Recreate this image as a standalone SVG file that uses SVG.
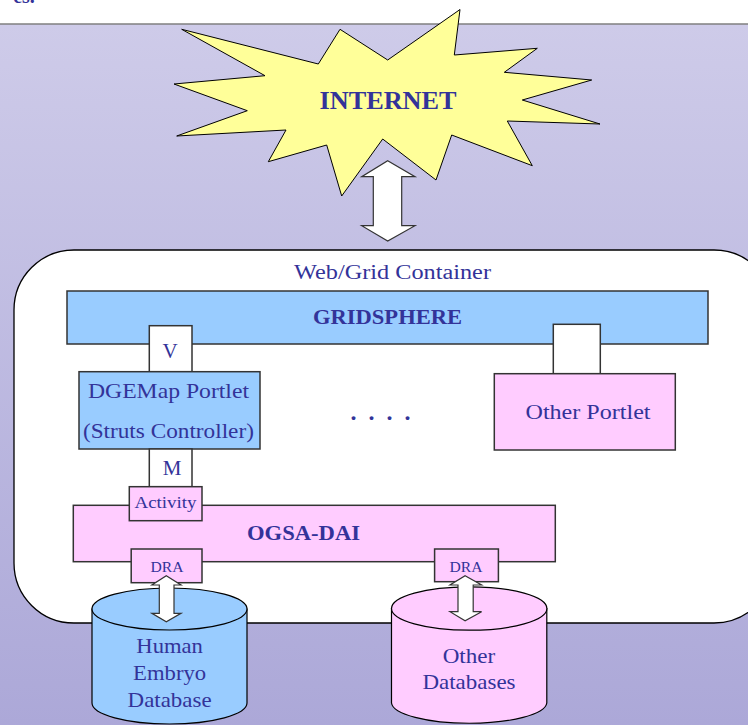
<svg xmlns="http://www.w3.org/2000/svg" width="748" height="725" viewBox="0 0 748 725">
<defs>
<linearGradient id="bg" x1="0" y1="0" x2="0" y2="1">
<stop offset="0" stop-color="#CECBE9"/>
<stop offset="1" stop-color="#ACA8D8"/>
</linearGradient>
<style>
.t{font-family:"Liberation Serif","Times New Roman",serif;fill:#333399;text-anchor:middle}
.b{font-weight:bold}
.box{stroke:#333333;stroke-width:1.5}
.blue{fill:#99CCFF}
.pink{fill:#FFCCFF}
.white{fill:#FFFFFF}
.arr{fill:#FFFFFF;stroke:#333333;stroke-width:1.2;stroke-linejoin:miter}
</style>
</defs>
<rect x="0" y="0" width="748" height="725" fill="#FFFFFF"/>
<rect x="0" y="24" width="748" height="701" fill="url(#bg)"/>
<line x1="0" y1="24" x2="748" y2="24" stroke="#7F7F7F" stroke-width="1.5"/>
<text class="t b" x="24" y="3" font-size="20">es.</text>

<g id="internet">
<polygon points="181.7,29.3 318.3,64 340,29.3 387.7,60 460,9.5 454.3,55 537.3,48.3 504.3,72.3 591.7,80 522.3,100 600,124 507.3,121 532.3,165.7 451.7,135 436,180 382.7,139 341.7,196 326.7,145 268.3,161.7 286,130 176.7,136 247.3,110.7 174,84 265,75.7" fill="#FFFF99" stroke="#000000" stroke-width="1"/>
<text class="t b" x="388" y="109" font-size="26" textLength="137" lengthAdjust="spacingAndGlyphs">INTERNET</text>
</g>

<g id="container">
<rect x="14" y="250" width="760" height="373" rx="60" ry="60" fill="#FFFFFF" stroke="#000000" stroke-width="1.3"/>
<text class="t" x="392.5" y="279" font-size="20" textLength="197" lengthAdjust="spacingAndGlyphs">Web/Grid Container</text>
</g>

<g id="gridsphere">
<rect class="box blue" x="67" y="291" width="641" height="53"/>
<text class="t b" x="387.5" y="324" font-size="21" textLength="149" lengthAdjust="spacingAndGlyphs">GRIDSPHERE</text>
</g>

<g id="v-box">
<rect class="box white" x="149.3" y="325.7" width="42.7" height="46"/>
<text class="t" x="170" y="358.3" font-size="21">V</text>
</g>

<g id="other-connector">
<rect class="box white" x="553.3" y="324.3" width="47" height="49.4"/>
</g>

<g id="dgemap">
<rect class="box blue" x="79" y="371.7" width="181" height="77.3"/>
<text class="t" x="168.5" y="398.3" font-size="21" textLength="161" lengthAdjust="spacingAndGlyphs">DGEMap Portlet</text>
<text class="t" x="168.4" y="438.3" font-size="21" textLength="171" lengthAdjust="spacingAndGlyphs">(Struts Controller)</text>
</g>

<g id="other-portlet">
<rect class="box pink" x="494.3" y="373.7" width="181" height="76.3"/>
<text class="t" x="588" y="419.3" font-size="21" textLength="125" lengthAdjust="spacingAndGlyphs">Other Portlet</text>
</g>

<g id="dots">
<text class="t b" x="382" y="420" font-size="24" letter-spacing="3">. . . .</text>
</g>

<g id="m-box">
<rect class="box white" x="149.3" y="449" width="42.7" height="37.7"/>
<text class="t" x="172" y="475" font-size="21">M</text>
</g>

<g id="ogsa-dai">
<rect class="box pink" x="73.3" y="505.3" width="482" height="56.4"/>
<text class="t b" x="303.5" y="539.5" font-size="21" textLength="113" lengthAdjust="spacingAndGlyphs">OGSA-DAI</text>
</g>

<g id="activity">
<rect class="box pink" x="129.3" y="486.7" width="72.7" height="34"/>
<text class="t" x="165.5" y="508.3" font-size="16" textLength="62" lengthAdjust="spacingAndGlyphs">Activity</text>
</g>

<g id="dra-left">
<rect class="box pink" x="131.2" y="549" width="70.8" height="33.7"/>
<text class="t" x="167" y="572.3" font-size="15" textLength="33" lengthAdjust="spacingAndGlyphs">DRA</text>
</g>

<g id="dra-right">
<rect class="box pink" x="434.6" y="549" width="63.8" height="32.7"/>
<text class="t" x="466" y="572.3" font-size="15" textLength="33" lengthAdjust="spacingAndGlyphs">DRA</text>
</g>

<g id="human-db">
<path d="M92,609 L92,703 A77.5,21 0 0 0 247,703 L247,609 Z" fill="#99CCFF" stroke="#000000" stroke-width="1.2"/>
<ellipse cx="169.5" cy="609" rx="77.5" ry="21" fill="#99CCFF" stroke="#000000" stroke-width="1.2"/>
<text class="t" x="169.6" y="653.3" font-size="21" textLength="66.6" lengthAdjust="spacingAndGlyphs">Human</text>
<text class="t" x="169.6" y="680" font-size="21" textLength="73" lengthAdjust="spacingAndGlyphs">Embryo</text>
<text class="t" x="169.6" y="706.7" font-size="21" textLength="84" lengthAdjust="spacingAndGlyphs">Database</text>
</g>

<g id="other-db">
<path d="M391.5,608.5 L391.5,703 A77.7,21 0 0 0 546.8,703 L546.8,608.5 Z" fill="#FFCCFF" stroke="#000000" stroke-width="1.2"/>
<ellipse cx="469.2" cy="608.5" rx="77.7" ry="21.7" fill="#FFCCFF" stroke="#000000" stroke-width="1.2"/>
<text class="t" x="469" y="662.7" font-size="21" textLength="52.6" lengthAdjust="spacingAndGlyphs">Other</text>
<text class="t" x="469" y="689.3" font-size="21" textLength="93" lengthAdjust="spacingAndGlyphs">Databases</text>
</g>

<g id="connectors">
<polygon class="arr" points="387.7,160.7 415,176.7 401.7,176.7 401.7,225.7 415,225.7 387.7,241 361.7,225.7 373.3,225.7 373.3,176.7 361.7,176.7"/>
<polygon class="arr" points="166.3,575.7 181,585 174,585 174,613.3 181,613.3 166.3,621.7 151.9,613.3 159.3,613.3 159.3,585 151.9,585"/>
<polygon class="arr" points="465.1,575.7 481.6,585 473.2,585 473.2,611.7 481.6,611.7 465.1,620.7 450,611.7 458,611.7 458,585 450,585"/>
</g>
</svg>
